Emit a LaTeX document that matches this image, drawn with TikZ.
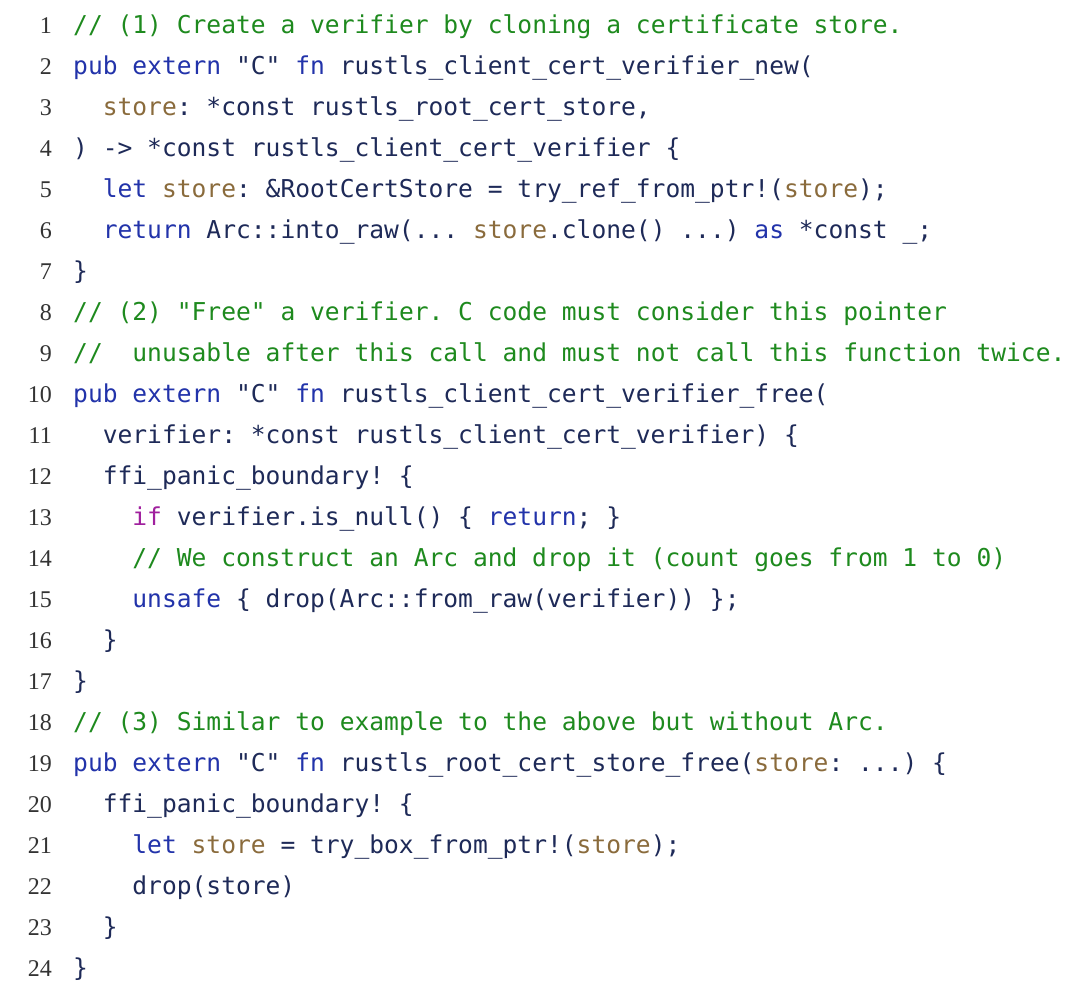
\documentclass[tikz,border=0pt]{standalone}
\usepackage{fontspec}
\newfontfamily\codefont{DejaVu Sans Mono}
\newfontfamily\numfont{Liberation Serif}
\definecolor{codetext}{HTML}{1E2A58}
\definecolor{kw}{HTML}{2233AA}
\definecolor{var}{HTML}{8A6B3C}
\definecolor{cmt}{HTML}{1E8A1E}
\definecolor{mag}{HTML}{A0209E}
\definecolor{numc}{HTML}{333333}
\newcommand\K[1]{\textcolor{kw}{#1}}
\newcommand\V[1]{\textcolor{var}{#1}}
\newcommand\Cm[1]{\textcolor{cmt}{#1}}
\newcommand\Mg[1]{\textcolor{mag}{#1}}
\frenchspacing
\tikzset{
  codeline/.style={anchor=base west,inner sep=0pt,text=codetext,font=\codefont\frenchspacing\fontsize{24.6}{30}\selectfont},
  numline/.style={anchor=base east,inner sep=0pt,text=numc,font=\numfont\fontsize{24}{30}\selectfont}
}
\newcommand\Ln[3]{%
  \node[numline] (n#1) at (52pt,{994pt-(26pt+(#1-1)*40.96pt)-8pt}) {#1};
  \node[codeline] (c#1) at ({73pt+#2*14.8pt},{994pt-(26pt+(#1-1)*40.96pt)-8pt}) {#3};
}
\begin{document}
\begin{tikzpicture}[x=1pt,y=1pt]
\useasboundingbox (0,0) rectangle (1080pt,994pt);
\fill[white] (0,0) rectangle (1080pt,994pt);
\Ln{1}{0}{\Cm{// (1) Create a verifier by cloning a certificate store.}}
\Ln{2}{0}{\K{pub extern} "C" \K{fn} rustls\_client\_cert\_verifier\_new(}
\Ln{3}{2}{\V{store}: *const rustls\_root\_cert\_store,}
\Ln{4}{0}{) -> *const rustls\_client\_cert\_verifier \{}
\Ln{5}{2}{\K{let} \V{store}: \&RootCertStore = try\_ref\_from\_ptr!(\V{store});}
\Ln{6}{2}{\K{return} Arc::into\_raw(... \V{store}.clone() ...) \K{as} *const \_;}
\Ln{7}{0}{\}}
\Ln{8}{0}{\Cm{// (2) "Free" a verifier. C code must consider this pointer}}
\Ln{9}{0}{\Cm{//\ \ unusable after this call and must not call this function twice.}}
\Ln{10}{0}{\K{pub extern} "C" \K{fn} rustls\_client\_cert\_verifier\_free(}
\Ln{11}{2}{verifier: *const rustls\_client\_cert\_verifier) \{}
\Ln{12}{2}{ffi\_panic\_boundary! \{}
\Ln{13}{4}{\Mg{if} verifier.is\_null() \{ \K{return}; \}}
\Ln{14}{4}{\Cm{// We construct an Arc and drop it (count goes from 1 to 0)}}
\Ln{15}{4}{\K{unsafe} \{ drop(Arc::from\_raw(verifier)) \};}
\Ln{16}{2}{\}}
\Ln{17}{0}{\}}
\Ln{18}{0}{\Cm{// (3) Similar to example to the above but without Arc.}}
\Ln{19}{0}{\K{pub extern} "C" \K{fn} rustls\_root\_cert\_store\_free(\V{store}: ...) \{}
\Ln{20}{2}{ffi\_panic\_boundary! \{}
\Ln{21}{4}{\K{let} \V{store} = try\_box\_from\_ptr!(\V{store});}
\Ln{22}{4}{drop(store)}
\Ln{23}{2}{\}}
\Ln{24}{0}{\}}
\end{tikzpicture}
\end{document}
